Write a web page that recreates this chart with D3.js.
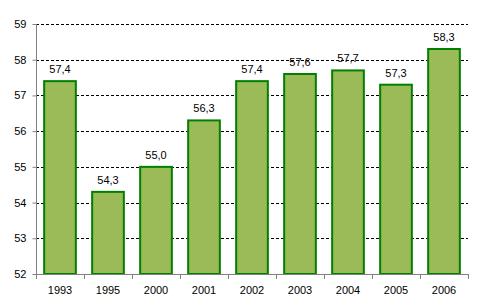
<!DOCTYPE html>
<html>
<head>
<meta charset="utf-8">
<script src="https://cdn.jsdelivr.net/npm/d3@7"></script>
<style>
  body { margin: 0; background: #fff; }
  text { font-family: Arial, "Liberation Sans", sans-serif; }
</style>
</head>
<body>
<div class="canvas"></div>
<script>
// data
const years = ['1993', '1995', '2000', '2001', '2002', '2003', '2004', '2005', '2006']
const values = [57.4, 54.3, 55.0, 56.3, 57.4, 57.6, 57.7, 57.3, 58.3]
const yTicks = [52, 53, 54, 55, 56, 57, 58, 59]

const width = 482
const height = 306
const margin = { top: 24, right: 14, bottom: 32, left: 36 }
const graphWidth = width - margin.left - margin.right
const graphHeight = height - margin.top - margin.bottom

const svg = d3.select('.canvas')
  .append('svg')
  .attr('width', width)
  .attr('height', height)

const graph = svg.append('g')
  .attr('transform', `translate(${margin.left}, ${margin.top})`)

// scales
const x = d3.scaleBand()
  .domain(years)
  .range([0, graphWidth])
  .paddingInner(0.34)
  .paddingOuter(0.17)

const xTickScale = d3.scaleBand()
  .domain(years)
  .range([0, graphWidth])

const y = d3.scaleLinear()
  .domain([52, 59])
  .range([graphHeight, 0])

// gridlines
graph.append('g')
  .selectAll('line')
  .data(yTicks.filter(d => d > 52))
  .join('line')
  .attr('x1', 0)
  .attr('x2', graphWidth)
  .attr('y1', d => Math.round(y(d)) + 0.5)
  .attr('y2', d => Math.round(y(d)) + 0.5)
  .attr('stroke', '#000')
  .attr('stroke-dasharray', '3,2')
  .attr('shape-rendering', 'crispEdges')

// bars
graph.selectAll('rect')
  .data(values)
  .join('rect')
  .attr('x', (d, i) => x(years[i]))
  .attr('y', d => y(d))
  .attr('width', x.bandwidth())
  .attr('height', d => graphHeight - y(d))
  .attr('fill', '#9BBB59')
  .attr('stroke', '#008000')
  .attr('stroke-width', 2)

// value labels
graph.selectAll('.val')
  .data(values)
  .join('text')
  .attr('class', 'val')
  .attr('x', (d, i) => x(years[i]) + x.bandwidth() / 2)
  .attr('y', d => y(d) - 8)
  .attr('text-anchor', 'middle')
  .attr('font-size', 11)
  .attr('fill', '#000')
  .text(d => d3.format('.1f')(d).replace('.', ','))

// y axis
const yAxisGroup = graph.append('g')
  .attr('transform', 'translate(0.5, 0)')
  .call(d3.axisLeft(y).tickValues(yTicks).tickSize(4).tickPadding(6).tickFormat(d3.format('d')))
yAxisGroup.select('.domain').attr('stroke', '#808080').attr('d', `M0,0V${graphHeight}`)
yAxisGroup.selectAll('line').attr('stroke', '#808080')
yAxisGroup.selectAll('text').attr('font-size', 11).attr('fill', '#000')
  .style('font-family', 'Arial, "Liberation Sans", sans-serif')

// x axis
const xAxisGroup = graph.append('g')
  .attr('transform', `translate(0, ${graphHeight + 0.5})`)
  .call(d3.axisBottom(xTickScale).tickSize(0).tickPadding(12))
xAxisGroup.select('.domain').attr('stroke', '#808080').attr('d', `M0,0H${graphWidth}`)
xAxisGroup.selectAll('text').attr('font-size', 11).attr('fill', '#000')
  .style('font-family', 'Arial, "Liberation Sans", sans-serif')

// category dividers
graph.append('g')
  .selectAll('line')
  .data(d3.range(years.length + 1))
  .join('line')
  .attr('x1', i => Math.round(i * xTickScale.step()) + 0.5)
  .attr('x2', i => Math.round(i * xTickScale.step()) + 0.5)
  .attr('y1', graphHeight)
  .attr('y2', graphHeight + 5)
  .attr('stroke', '#808080')
</script>
</body>
</html>
